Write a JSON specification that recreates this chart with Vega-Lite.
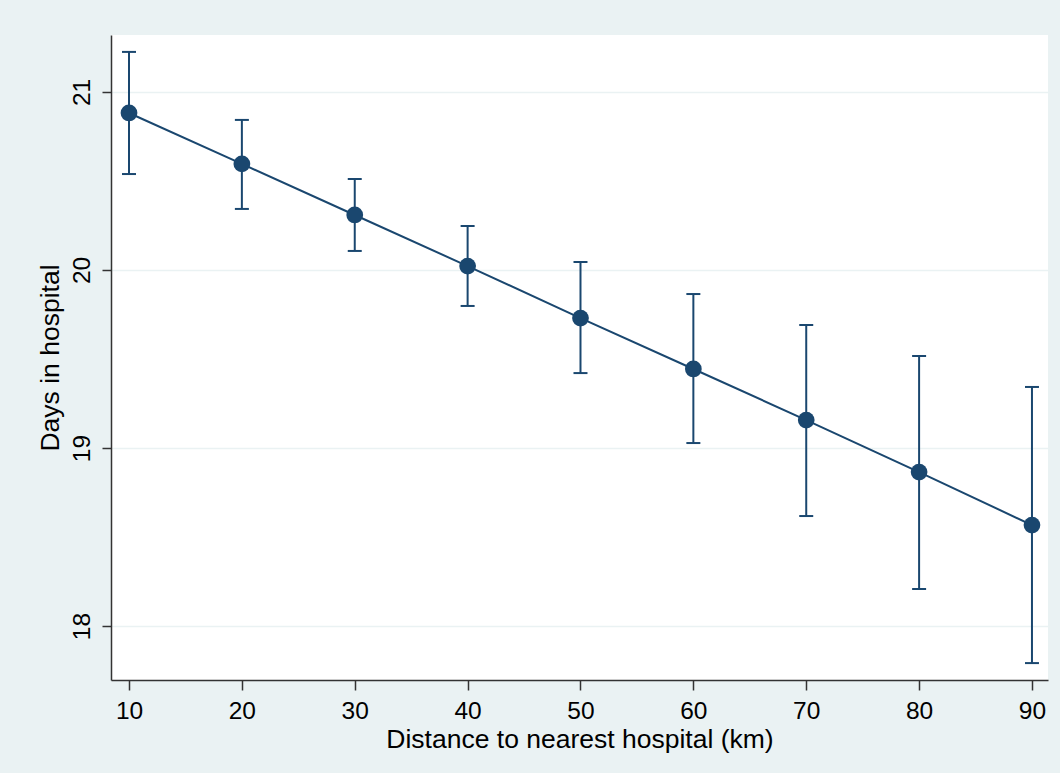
{
  "$schema": "https://vega.github.io/schema/vega-lite/v6.json",
  "width": 937,
  "height": 645,
  "autosize": {"type": "none"},
  "padding": {"left": 111, "top": 35, "right": 12, "bottom": 93},
  "background": "#EAF2F3",
  "config": {
    "view": {"fill": "#FFFFFF", "stroke": null},
    "font": "Liberation Sans"
  },
  "data": {
    "values": [
      {"distance": 10, "days": 20.882, "lo": 20.539, "hi": 21.225},
      {"distance": 20, "days": 20.596, "lo": 20.343, "hi": 20.843},
      {"distance": 30, "days": 20.309, "lo": 20.107, "hi": 20.511},
      {"distance": 40, "days": 20.022, "lo": 19.798, "hi": 20.247},
      {"distance": 50, "days": 19.730, "lo": 19.421, "hi": 20.045},
      {"distance": 60, "days": 19.444, "lo": 19.028, "hi": 19.865},
      {"distance": 70, "days": 19.157, "lo": 18.618, "hi": 19.691},
      {"distance": 80, "days": 18.865, "lo": 18.208, "hi": 19.517},
      {"distance": 90, "days": 18.567, "lo": 17.792, "hi": 19.343}
    ]
  },
  "encoding": {
    "x": {
      "field": "distance",
      "type": "quantitative",
      "scale": {"domain": [8.405, 91.42], "nice": false, "zero": false},
      "axis": {
        "title": "Distance to nearest hospital (km)",
        "values": [10, 20, 30, 40, 50, 60, 70, 80, 90],
        "format": "d",
        "grid": false,
        "domainColor": "#333333",
        "domainWidth": 1.5,
        "tickColor": "#333333",
        "tickWidth": 1.5,
        "tickSize": 10,
        "labelFont": "Liberation Sans",
        "labelFontSize": 24.5,
        "labelColor": "#000000",
        "labelPadding": 9,
        "titleFont": "Liberation Sans",
        "titleFontSize": 26.5,
        "titleFontWeight": "normal",
        "titleColor": "#000000",
        "titlePadding": 4
      }
    }
  },
  "layer": [
    {
      "mark": {"type": "rule", "color": "#1A476F", "strokeWidth": 2},
      "encoding": {
        "y": {
          "field": "lo",
          "type": "quantitative",
          "scale": {"domain": [17.697, 21.32], "nice": false, "zero": false},
          "axis": {
            "title": "Days in hospital",
            "values": [18, 19, 20, 21],
            "format": "d",
            "grid": true,
            "gridColor": "#EAF2F3",
            "gridWidth": 1.5,
            "domainColor": "#333333",
            "domainWidth": 1.5,
            "tickColor": "#333333",
            "tickWidth": 1.5,
            "tickSize": 9,
            "labelAngle": -90,
            "labelAlign": "center",
            "labelBaseline": "bottom",
            "labelFont": "Liberation Sans",
            "labelFontSize": 24.5,
            "labelColor": "#000000",
            "labelPadding": 8,
            "titleFont": "Liberation Sans",
            "titleFontSize": 26.5,
            "titleFontWeight": "normal",
            "titleColor": "#000000",
            "titlePadding": 5
          }
        },
        "y2": {"field": "hi"}
      }
    },
    {
      "mark": {"type": "tick", "orient": "horizontal", "color": "#1A476F", "size": 14, "thickness": 2, "opacity": 1},
      "encoding": {"y": {"field": "lo", "type": "quantitative"}}
    },
    {
      "mark": {"type": "tick", "orient": "horizontal", "color": "#1A476F", "size": 14, "thickness": 2, "opacity": 1},
      "encoding": {"y": {"field": "hi", "type": "quantitative"}}
    },
    {
      "mark": {"type": "line", "color": "#1A476F", "strokeWidth": 2},
      "encoding": {"y": {"field": "days", "type": "quantitative"}}
    },
    {
      "mark": {"type": "circle", "color": "#1A476F", "size": 280, "opacity": 1},
      "encoding": {"y": {"field": "days", "type": "quantitative"}}
    }
  ]
}
